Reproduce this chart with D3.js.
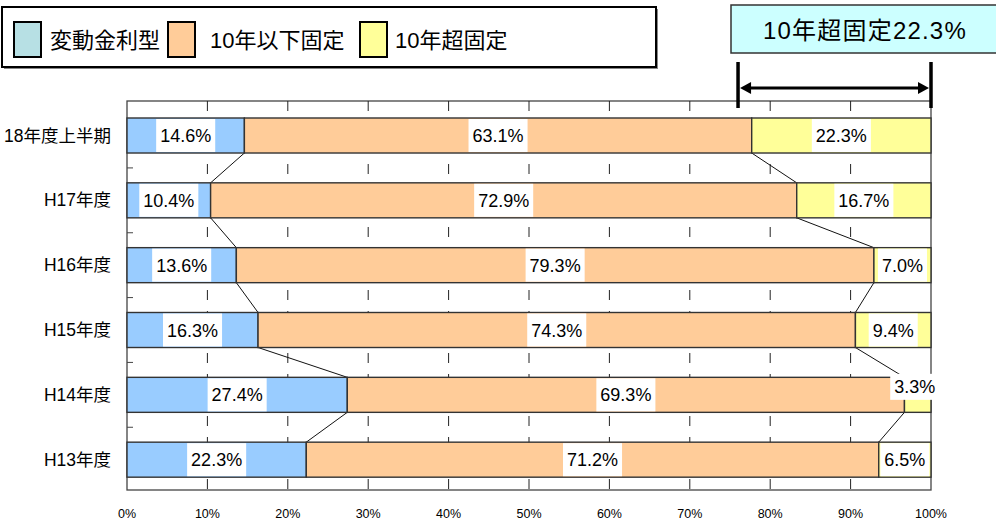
<!DOCTYPE html>
<html><head><meta charset="utf-8">
<script src="https://cdn.jsdelivr.net/npm/d3@7"></script>
<style>body{margin:0;background:#fff} svg{display:block}</style>
</head><body><svg id="c" width="996" height="523"></svg>
<script>
const categories = ["18年度上半期","H17年度","H16年度","H15年度","H14年度","H13年度"];
const seriesNames = ["変動金利型","10年以下固定","10年超固定"];
const variableRate = [14.6,10.4,13.6,16.3,27.4,22.3];
const fixedUnder10 = [63.1,72.9,79.3,74.3,69.3,71.2];
const fixedOver10 = [22.3,16.7,7.0,9.4,3.3,6.5];
const tickValues = [0,10,20,30,40,50,60,70,80,90,100];
const tickLabels = ["0%","10%","20%","30%","40%","50%","60%","70%","80%","90%","100%"];
const calloutText = "10年超固定22.3%";
const calloutFrom = 76.0; // arrow start (percentage on axis)

const barColors = ["#99CCFF","#FFCC99","#FFFF99"];
const legendColors = ["#B7E0E4","#FFCC99","#FFFF99"];
const FONT = "'Liberation Sans', Arial, 'Noto Sans CJK JP', sans-serif";
const NARROW = "'Liberation Sans Narrow', 'Arial Narrow', 'Liberation Sans', sans-serif";

const svg = d3.select("#c");
const x = d3.scaleLinear().domain([0,100]).range([127,931]);
const y = d3.scaleBand().domain(categories).range([101,490]).paddingInner(0.46).paddingOuter(0.23).align(0.57);
const bw = y.bandwidth(), step = y.step();

const rows = categories.map((c,i)=>{
  const vals=[variableRate[i],fixedUnder10[i],fixedOver10[i]];
  let cum=0; const segs=vals.map((v,k)=>{const s={cat:c,k,v,x0:cum,x1:cum+v}; cum+=v; return s;});
  segs[2].x1 = 100;
  return {cat:c, segs};
});

// frame
svg.append("rect").attr("x",x(0)).attr("y",101).attr("width",x(100)-x(0)).attr("height",389)
  .attr("fill","#fff").attr("stroke","#444").attr("stroke-width",1.3);

// dashed gridlines
svg.append("g").selectAll("line").data(tickValues.slice(1,-1)).join("line")
  .attr("x1",d=>x(d)).attr("x2",d=>x(d)).attr("y1",101).attr("y2",490)
  .attr("stroke","#222").attr("stroke-width",1).attr("stroke-dasharray","10,11");

// y ticks at category boundaries
const bounds = categories.slice(0,-1).map(c=>y(c)+bw+(step-bw)/2);
svg.append("g").selectAll("line").data(bounds).join("line")
  .attr("x1",x(0)).attr("x2",x(0)+6).attr("y1",d=>d).attr("y2",d=>d).attr("stroke","#444");

// connector lines
for(let i=0;i<rows.length-1;i++){
  const a=rows[i], b=rows[i+1];
  [0,1].forEach(k=>{
    svg.append("line").attr("x1",x(a.segs[k].x1)).attr("y1",y(a.cat)+bw)
      .attr("x2",x(b.segs[k].x1)).attr("y2",y(b.cat)).attr("stroke","#111").attr("stroke-width",1);
  });
}

// bars
const bars = svg.append("g");
rows.forEach(r=>{
  bars.selectAll(null).data(r.segs).join("rect")
    .attr("x",d=>x(d.x0)).attr("y",y(r.cat)).attr("width",d=>x(d.x1)-x(d.x0)).attr("height",bw)
    .attr("fill",d=>barColors[d.k]).attr("stroke","#333").attr("stroke-width",1.4);
});

// labels
const lab = svg.append("g");
rows.forEach(r=>{
  r.segs.forEach(s=>{
    const txt = s.v.toFixed(1)+"%";
    const cx = (x(s.x0)+x(s.x1))/2;
    const g = lab.append("g");
    const t = g.append("text").text(txt).attr("font-family",FONT).attr("font-size",18)
      .attr("text-anchor","middle").attr("fill","#000");
    const w = t.node().getComputedTextLength()+8;
    const segW = x(s.x1)-x(s.x0);
    let cy = y(r.cat)+bw/2, h = bw-2, px = cx;
    if(w > segW){ cy -= 8; h = 26; px = cx-3; }
    t.attr("x",px).attr("y",cy+6.5);
    g.insert("rect","text").attr("x",px-w/2).attr("y",cy-h/2).attr("width",w).attr("height",h).attr("fill","#fff");
  });
});

// category labels
svg.append("g").selectAll("text").data(categories).join("text")
  .attr("x",111).attr("y",d=>y(d)+bw/2+6).attr("text-anchor","end")
  .attr("font-family",FONT).attr("font-size",17.5).attr("fill","#000").text(d=>d);

// x tick labels
svg.append("g").selectAll("text").data(tickValues).join("text")
  .attr("x",d=>x(d)).attr("y",518).attr("text-anchor","middle")
  .attr("font-family",NARROW).attr("font-size",12.5).attr("fill","#000")
  .text((d,i)=>tickLabels[i]);

// legend
svg.append("rect").attr("x",4).attr("y",9).attr("width",654).attr("height",60).attr("fill","#888");
svg.append("rect").attr("x",2).attr("y",7).attr("width",654).attr("height",60).attr("fill","#fff").attr("stroke","#000").attr("stroke-width",2);
const legX = [14,168,360], legTX=[50,210,395];
seriesNames.forEach((n,i)=>{
  svg.append("rect").attr("x",legX[i]).attr("y",22).attr("width",27).attr("height",35)
    .attr("fill",legendColors[i]).attr("stroke","#000").attr("stroke-width",2);
  svg.append("text").attr("x",legTX[i]).attr("y",48).attr("font-family",FONT).attr("font-size",22)
    .attr("fill","#000").text(n);
});

// callout box
svg.append("rect").attr("x",731).attr("y",5).attr("width",290).attr("height",48)
  .attr("fill","#CCFFFF").attr("stroke","#333").attr("stroke-width",1.5);
svg.append("text").attr("x",865).attr("y",39).attr("text-anchor","middle").attr("font-family",FONT)
  .attr("font-size",24).attr("letter-spacing",1.2).attr("fill","#000").text(calloutText);

// arrow
const ax0 = x(calloutFrom), ax1 = x(100);
svg.append("line").attr("x1",ax0).attr("x2",ax0).attr("y1",62).attr("y2",108).attr("stroke","#000").attr("stroke-width",3.5);
svg.append("line").attr("x1",ax1).attr("x2",ax1).attr("y1",62).attr("y2",108).attr("stroke","#000").attr("stroke-width",3.5);
svg.append("line").attr("x1",ax0+8).attr("x2",ax1-8).attr("y1",88).attr("y2",88).attr("stroke","#000").attr("stroke-width",3);
svg.append("path").attr("d",`M${ax0+2},88 L${ax0+13},82 L${ax0+13},94 Z`).attr("fill","#000");
svg.append("path").attr("d",`M${ax1-2},88 L${ax1-13},82 L${ax1-13},94 Z`).attr("fill","#000");
</script></body></html>
